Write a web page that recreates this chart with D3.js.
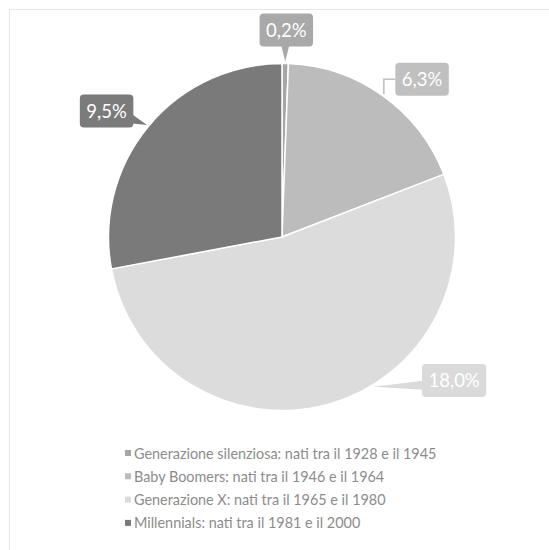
<!DOCTYPE html>
<meta charset="utf-8">
<style>
  body { margin: 0; background: #fff; }
  svg { display: block; font-family: 'Lato', 'Open Sans', sans-serif; }
  .callout text { fill: #fff; font-size: 18.5px; }
  .legend text { fill: #8c8c8c; font-size: 14.4px; }
</style>
<script src="https://d3js.org/d3.v7.min.js"></script>
<div id="chart"></div>
<script>
  // data
  const categories = [
    "Generazione silenziosa: nati tra il 1928 e il 1945",
    "Baby Boomers: nati tra il 1946 e il 1964",
    "Generazione X: nati tra il 1965 e il 1980",
    "Millennials: nati tra il 1981 e il 2000"
  ];
  const values = [0.2, 6.3, 18.0, 9.5];
  const valueLabels = ["0,2%", "6,3%", "18,0%", "9,5%"];

  const sliceColors = ["#a6a6a6", "#bcbcbc", "#dcdcdc", "#7a7a7a"];
  const boxColors   = ["#a9a9a9", "#c0c0c0", "#dadada", "#7b7b7b"];

  // callout placement (polar, degrees clockwise from 12 o'clock)
  const callouts = [
    { angle: 1.2,   r: 207, tip: null,  kind: "pointer" },
    { angle: 41.6,  r: 211, tip: null,  kind: "elbow" },
    { angle: 129.8, r: 224, tip: 148.6, kind: "pointer" },
    { angle: 305.7, r: 216, tip: null,  kind: "pointer" }
  ];

  const W = 549, H = 550;
  const cx = 282, cy = 237, radius = 173.5;

  const svg = d3.select("#chart").append("svg")
    .attr("width", W).attr("height", H);

  // faint frame like the pasted chart area
  svg.append("rect")
    .attr("x", 9.5).attr("y", 9.5)
    .attr("width", W).attr("height", H)
    .attr("fill", "none").attr("stroke", "#e6e6e6");

  const pie = d3.pie().sort(null).value(d => d);
  const arcs = pie(values);
  const arc = d3.arc().innerRadius(0).outerRadius(radius);

  const g = svg.append("g").attr("transform", `translate(${cx},${cy})`);

  g.selectAll("path.slice")
    .data(arcs)
    .enter()
    .append("path")
      .attr("class", "slice")
      .attr("d", arc)
      .attr("fill", (d, i) => sliceColors[i])
      .attr("stroke", "#fff")
      .attr("stroke-width", 1.5)
      .attr("stroke-linejoin", "round");

  const rad = deg => deg * Math.PI / 180;
  const polar = (a, r) => [r * Math.sin(a), -r * Math.cos(a)];

  // data callouts
  const co = g.append("g").attr("class", "callout");
  arcs.forEach(function(d, i) {
    const c = callouts[i];
    const [bx, by] = polar(rad(c.angle), c.r);
    const tipA = c.tip == null ? (d.startAngle + d.endAngle) / 2 : rad(c.tip);
    const [tx, ty] = polar(tipA, radius + 2);

    const label = co.append("text")
      .attr("x", bx).attr("y", by)
      .attr("text-anchor", "middle")
      .attr("dominant-baseline", "central")
      .text(valueLabels[i]);
    const tw = label.node().getComputedTextLength();
    const bw = tw + 13, bh = 33;
    const x0 = bx - bw / 2, y0 = by - bh / 2, x1 = x0 + bw, y1 = y0 + bh;

    const box = co.insert("g", "text");
    if (c.kind === "elbow") {
      box.append("path")
        .attr("d", `M${x0},${by} H${tx} V${ty}`)
        .attr("fill", "none")
        .attr("stroke", boxColors[i])
        .attr("stroke-width", 1.6);
    } else {
      let tri;
      if (ty > y1) {
        const mx = Math.max(x0 + 6, Math.min(x1 - 12, tx - 4));
        tri = [[mx, y1 - 1], [mx + 8, y1 - 1], [tx, ty]];
      } else if (tx > x1) {
        const my = Math.max(y0 + 4, Math.min(y1 - 4, ty)) - 9;
        tri = [[x1 - 1, my], [x1 - 1, my + 9], [tx, ty]];
      } else {
        const my = Math.max(y0 + 4, Math.min(y1 - 14, ty - 6));
        tri = [[x0 + 1, my], [x0 + 1, my + 9], [tx, ty]];
      }
      box.append("path")
        .attr("d", d3.line()(tri) + "Z")
        .attr("fill", boxColors[i]);
    }
    box.append("rect")
      .attr("x", x0).attr("y", y0)
      .attr("width", bw).attr("height", bh)
      .attr("rx", 4)
      .attr("fill", boxColors[i]);
  });

  // legend
  const legend = svg.append("g").attr("class", "legend")
    .attr("transform", "translate(125,453)");
  const rows = legend.selectAll("g")
    .data(categories)
    .enter()
    .append("g")
      .attr("transform", (d, i) => `translate(0,${i * 23.3})`);
  rows.append("rect")
    .attr("x", 0).attr("y", -3)
    .attr("width", 6).attr("height", 6)
    .attr("fill", (d, i) => sliceColors[i]);
  rows.append("text")
    .attr("x", 9).attr("y", 0)
    .attr("dominant-baseline", "central")
    .text(d => d);
</script>
